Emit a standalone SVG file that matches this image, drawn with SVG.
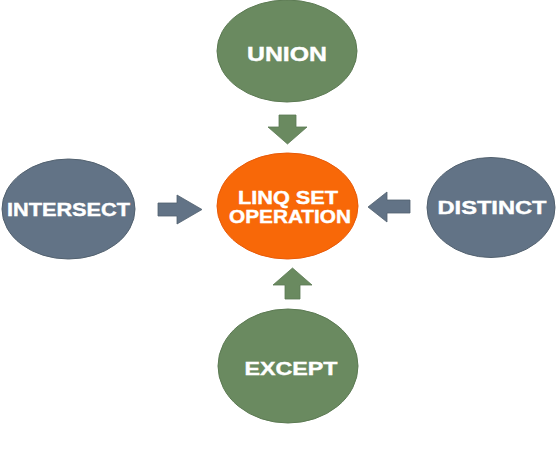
<svg xmlns="http://www.w3.org/2000/svg" width="560" height="460" viewBox="0 0 560 460">
  <style>
    .green { fill: #6A8A60; stroke: #5C7A53; stroke-width: 1; }
    .slate { fill: #627386; stroke: #52616F; stroke-width: 1; }
    .orange { fill: #F86808; stroke: #E85A08; stroke-width: 1; }
    .lbl { font-family: "Liberation Sans", Arial, sans-serif; font-weight: bold; fill: #FFFFFF; stroke: #FFFFFF; stroke-width: 0.4; text-anchor: middle; }
    .arr-g { fill: #6A8A60; stroke: #5C7A53; stroke-width: 0.8; }
    .arr-s { fill: #627386; stroke: #52616F; stroke-width: 0.8; }
  </style>
  <rect width="560" height="460" fill="#FFFFFF"/>
  <g id="connectors">
    <polygon class="arr-g" points="279,115 296,115 296,127 307,127 287.5,144 268,127 279,127"/>
    <polygon class="arr-s" points="158,203 177,203 177,195 202,209.5 177,224 177,216 158,216"/>
    <polygon class="arr-s" points="410,200 387,200 387,192 368,207 387,222 387,213 410,213"/>
    <polygon class="arr-g" points="285,299 300,299 300,285 312,285 292.5,268 273,285 285,285"/>
  </g>
  <g id="union">
    <ellipse class="green" cx="287" cy="51" rx="70" ry="51"/>
    <text class="lbl" x="287" y="61" font-size="20" textLength="80" lengthAdjust="spacingAndGlyphs">UNION</text>
  </g>
  <g id="intersect">
    <ellipse class="slate" cx="68.5" cy="209" rx="66.5" ry="50"/>
    <text class="lbl" x="68.5" y="216" font-size="18" textLength="123" lengthAdjust="spacingAndGlyphs">INTERSECT</text>
  </g>
  <g id="linq-set-operation">
    <ellipse class="orange" cx="287.5" cy="206" rx="70.5" ry="53"/>
    <text class="lbl" x="288" y="204" font-size="18" textLength="100" lengthAdjust="spacingAndGlyphs">LINQ SET</text>
    <text class="lbl" x="290" y="223" font-size="18" textLength="122" lengthAdjust="spacingAndGlyphs">OPERATION</text>
  </g>
  <g id="distinct">
    <ellipse class="slate" cx="491" cy="207.5" rx="64" ry="50"/>
    <text class="lbl" x="492" y="214" font-size="19" textLength="109" lengthAdjust="spacingAndGlyphs">DISTINCT</text>
  </g>
  <g id="except">
    <ellipse class="green" cx="288" cy="366" rx="70" ry="57"/>
    <text class="lbl" x="291" y="375" font-size="19" textLength="93" lengthAdjust="spacingAndGlyphs">EXCEPT</text>
  </g>
</svg>
